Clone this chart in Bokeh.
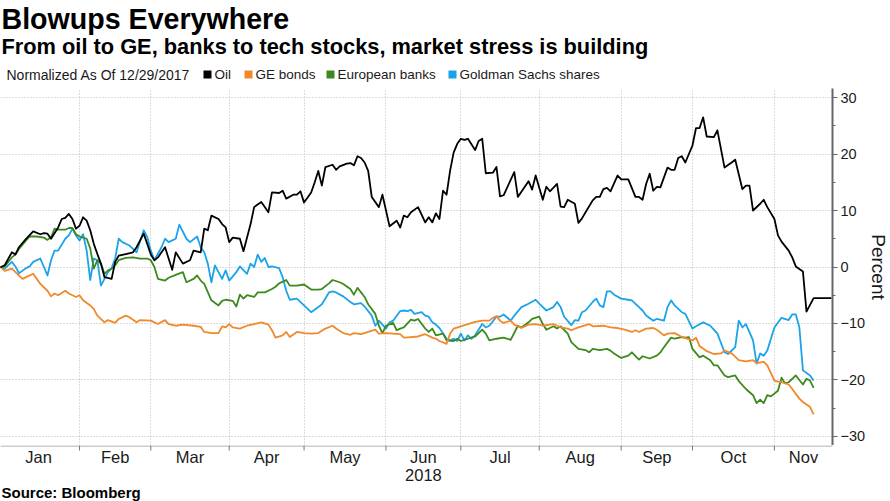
import numpy as np
from bokeh.plotting import figure
from bokeh.layouts import column
from bokeh.models import Range1d, FixedTicker, Label, Grid
from bokeh.core.properties import value
from bokeh.embed import file_html
from bokeh.resources import INLINE

BASE_DATE = "2017-12-29"   # normalization date = business day 0

# ---- data: business days since 12/29/2017, percent change ----
oil_day = [
    0, 2, 3, 5, 6, 7, 9, 11, 13, 14,
    15, 16, 18, 19, 20, 21, 22, 23, 24, 25,
    26, 27, 28, 29, 30, 31, 33, 34, 35, 37,
    39, 40, 42, 43, 44, 45, 46, 48, 49, 50,
    51, 53, 55, 56, 58, 59, 60, 61, 63, 64,
    65, 66, 67, 69, 70, 72, 73, 75, 77, 78,
    80, 81, 82, 84, 85, 86, 87, 89, 90, 91,
    92, 93, 95, 96, 97, 99, 100, 101, 102, 103,
    104, 105, 106, 108, 109, 110, 111, 113, 114, 115,
    116, 117, 119, 121, 122, 123, 124, 125, 126, 127,
    128, 129, 130, 131, 132, 133, 135, 136, 137, 138,
    140, 141, 142, 143, 146, 147, 150, 151, 152, 154,
    155, 156, 158, 159, 160, 161, 163, 164, 165, 166,
    168, 169, 170, 171, 172, 173, 175, 176, 178, 180,
    181, 182, 183, 184, 185, 186, 187, 189, 190, 191,
    192, 193, 194, 195, 196, 197, 198, 199, 200, 202,
    203, 205, 207, 208, 210, 211, 212, 213, 215, 216,
    217, 219, 220, 221, 223, 224, 225, 227, 228, 230,
    235]
oil_pct = [
    0.0, 0.0, 0.3, 2.6, 2.2, 3.5, 5.0, 6.3, 5.8, 6.0,
    5.9, 5.0, 7.0, 8.5, 8.7, 9.4, 8.5, 6.8, 7.3, 8.8,
    8.2, 6.5, 4.1, 2.3, 0.6, -1.8, -2.1, 0.9, 2.0, 2.3,
    2.6, 3.5, 5.9, 4.1, 2.2, 1.2, 1.7, 3.5, 1.5, -0.5,
    2.6, 0.6, 1.2, 2.9, 2.6, 6.8, 6.5, 9.1, 8.5, 7.6,
    7.0, 4.4, 5.2, 5.0, 2.8, 7.6, 10.6, 11.5, 9.7, 13.2,
    13.1, 13.5, 12.1, 12.8, 12.8, 13.4, 11.4, 13.2, 15.0, 17.0,
    14.4, 17.7, 18.1, 17.2, 17.8, 18.3, 18.4, 18.0, 19.6, 19.3,
    18.5, 17.0, 12.4, 10.6, 12.8, 10.0, 7.2, 8.2, 7.0, 9.1,
    8.8, 9.7, 10.6, 7.9, 8.8, 7.9, 9.5, 8.5, 13.5, 12.8,
    17.1, 20.3, 21.8, 22.7, 22.5, 22.7, 20.7, 22.3, 22.7, 16.6,
    16.7, 17.7, 12.5, 12.7, 16.8, 12.4, 15.2, 13.7, 16.2, 11.9,
    14.2, 13.4, 14.7, 10.7, 10.6, 11.9, 11.2, 7.8, 8.6, 9.7,
    11.8, 12.4, 12.4, 13.8, 14.0, 13.4, 16.2, 15.5, 15.5, 12.4,
    12.4, 11.9, 14.7, 16.5, 13.5, 14.2, 14.1, 17.6, 17.2, 17.2,
    19.3, 19.6, 18.5, 20.0, 21.5, 24.6, 24.6, 26.5, 23.1, 23.0,
    24.2, 17.6, 18.5, 19.0, 13.8, 14.4, 14.4, 10.0, 11.2, 11.9,
    10.6, 8.5, 5.6, 4.5, 2.9, 1.7, 0.1, -0.8, -7.9, -5.5,
    -5.5]

ge_day = [
    0, 2, 3, 5, 6, 8, 9, 11, 12, 13,
    15, 16, 17, 18, 20, 21, 23, 24, 25, 27,
    28, 29, 31, 32, 34, 35, 37, 38, 40, 41,
    44, 46, 48, 49, 51, 53, 56, 58, 59, 61,
    63, 64, 65, 66, 67, 69, 71, 73, 75, 77,
    78, 79, 81, 82, 83, 85, 87, 89, 91, 93,
    95, 96, 98, 100, 101, 103, 105, 107, 108, 110,
    112, 114, 115, 117, 119, 121, 123, 124, 125, 127,
    128, 129, 131, 133, 135, 137, 139, 140, 141, 142,
    143, 145, 146, 148, 150, 152, 154, 156, 157, 159,
    161, 162, 164, 167, 168, 171, 173, 175, 177, 179,
    180, 181, 183, 185, 186, 188, 189, 191, 193, 194,
    196, 197, 198, 200, 202, 204, 205, 207, 209, 211,
    213, 214, 216, 217, 219, 220, 221, 223, 224, 226,
    227, 229, 230]
ge_pct = [
    0.0, -0.1, -0.7, -0.3, -0.9, -2.1, -1.8, -1.2, -2.1, -3.0,
    -4.2, -5.2, -4.7, -5.0, -4.2, -4.7, -5.3, -5.0, -5.9, -6.8,
    -7.4, -8.6, -9.8, -9.4, -9.9, -9.2, -8.6, -8.9, -9.8, -9.4,
    -9.5, -10.1, -9.4, -10.1, -10.4, -10.2, -10.4, -10.6, -11.5, -11.7,
    -11.7, -10.5, -10.7, -10.1, -10.7, -10.9, -10.4, -10.1, -9.8, -10.2,
    -11.2, -12.5, -12.1, -11.5, -12.4, -11.5, -11.7, -11.8, -11.7, -10.9,
    -10.4, -10.9, -11.7, -12.0, -11.7, -11.9, -11.5, -11.1, -11.8, -11.7,
    -11.8, -11.9, -12.5, -12.4, -12.3, -11.9, -12.5, -12.7, -13.1, -13.6,
    -11.8, -10.9, -10.5, -10.1, -9.7, -9.5, -9.5, -9.0, -8.7, -9.5,
    -9.9, -9.5, -10.2, -10.8, -10.2, -10.1, -10.4, -10.2, -10.1, -10.7,
    -10.9, -11.2, -10.7, -10.1, -10.5, -10.4, -10.7, -10.8, -11.1, -11.5,
    -11.2, -11.5, -10.9, -10.8, -11.1, -12.1, -11.8, -11.7, -12.4, -12.6,
    -13.0, -12.5, -14.0, -14.9, -15.4, -15.3, -14.8, -15.3, -16.5, -16.7,
    -16.5, -17.0, -16.8, -17.4, -20.1, -20.3, -20.4, -20.8, -21.6, -23.3,
    -23.9, -24.8, -26.1]

eu_day = [
    0, 2, 3, 5, 6, 7, 9, 10, 12, 14,
    15, 16, 17, 18, 20, 21, 22, 23, 24, 26,
    27, 28, 29, 30, 31, 32, 33, 34, 35, 37,
    39, 41, 43, 44, 45, 46, 48, 49, 51, 53,
    54, 56, 57, 58, 59, 61, 63, 64, 65, 67,
    68, 69, 70, 71, 73, 74, 76, 78, 79, 80,
    82, 83, 85, 87, 89, 91, 92, 94, 95, 97,
    98, 100, 101, 102, 104, 105, 107, 108, 109, 110,
    112, 113, 114, 115, 117, 118, 119, 121, 122, 123,
    124, 126, 127, 129, 130, 131, 133, 135, 137, 138,
    139, 141, 143, 145, 147, 148, 150, 151, 153, 154,
    155, 157, 158, 159, 161, 162, 164, 166, 167, 168,
    170, 172, 173, 174, 176, 178, 179, 181, 182, 184,
    186, 187, 188, 190, 191, 193, 194, 195, 196, 198,
    199, 201, 202, 203, 205, 206, 208, 209, 211, 213,
    214, 215, 216, 217, 218, 220, 221, 222, 223, 225,
    227, 228, 229, 230]
eu_pct = [
    0.0, 0.0, 0.1, 1.7, 2.2, 3.2, 4.7, 5.4, 5.4, 5.2,
    4.8, 5.3, 6.8, 6.6, 6.6, 6.9, 6.9, 5.8, 5.4, 5.0,
    3.3, -0.3, 1.2, 0.6, -1.2, -0.6, -0.3, 0.3, 1.2, 1.6,
    1.7, 1.5, 1.5, 1.2, 0.0, -2.1, -2.4, -1.9, -1.4, -0.9,
    -2.7, -2.1, -1.5, -2.4, -3.0, -5.9, -6.8, -6.0, -5.8, -6.0,
    -7.0, -4.9, -5.6, -5.0, -5.3, -4.5, -4.5, -3.9, -3.5, -2.9,
    -2.3, -3.3, -3.3, -3.1, -4.0, -4.0, -3.9, -2.9, -2.3, -2.7,
    -3.0, -3.9, -4.9, -3.7, -5.3, -6.6, -8.3, -10.4, -11.7, -10.4,
    -9.9, -11.2, -10.9, -10.7, -9.3, -9.5, -9.2, -10.9, -11.5, -10.9,
    -12.1, -11.8, -13.0, -13.1, -12.7, -13.1, -12.7, -12.3, -11.1, -11.8,
    -13.0, -12.7, -12.5, -12.9, -10.4, -10.7, -9.8, -9.2, -8.8, -10.1,
    -11.1, -10.5, -10.9, -10.5, -11.8, -13.3, -14.5, -14.7, -15.1, -14.5,
    -14.7, -14.5, -14.8, -15.3, -16.1, -15.7, -15.1, -16.4, -15.8, -16.2,
    -15.7, -15.1, -14.2, -12.5, -12.7, -12.4, -12.5, -12.4, -14.5, -16.0,
    -15.7, -16.5, -17.4, -17.4, -19.2, -19.5, -19.2, -20.2, -21.6, -22.7,
    -24.1, -23.5, -24.1, -22.7, -22.9, -21.9, -19.6, -20.6, -20.4, -19.2,
    -20.8, -19.8, -20.1, -21.4]

gs_day = [
    0, 2, 3, 5, 6, 7, 9, 10, 11, 13,
    14, 15, 16, 17, 18, 20, 21, 22, 23, 24,
    25, 26, 27, 28, 29, 30, 32, 33, 34, 35,
    36, 38, 39, 40, 42, 43, 44, 45, 47, 48,
    49, 51, 52, 54, 55, 57, 58, 59, 60, 61,
    62, 64, 65, 66, 68, 69, 71, 72, 73, 74,
    75, 76, 77, 78, 80, 81, 82, 83, 85, 87,
    89, 91, 92, 94, 95, 96, 98, 100, 101, 103,
    104, 106, 107, 108, 110, 111, 112, 114, 115, 116,
    117, 118, 120, 121, 122, 123, 124, 125, 127, 128,
    129, 130, 131, 132, 133, 134, 135, 137, 138, 139,
    141, 142, 143, 145, 146, 148, 150, 152, 153, 155,
    157, 158, 159, 160, 162, 163, 164, 165, 166, 168,
    169, 170, 171, 172, 173, 174, 176, 178, 179, 181,
    182, 183, 185, 186, 188, 189, 190, 191, 193, 194,
    196, 197, 199, 201, 202, 203, 205, 206, 208, 209,
    210, 211, 213, 214, 215, 216, 217, 219, 221, 223,
    224, 225, 226, 227, 229, 230]
gs_pct = [
    0.0, 0.0, -0.3, 0.9, 0.1, -1.1, -0.2, 0.1, 0.9, 1.5,
    0.0, -1.5, 1.2, 2.9, 2.9, 5.0, 5.6, 6.8, 5.6, 4.7,
    5.8, 2.9, -2.3, 1.5, 1.2, -3.3, -0.9, -0.2, 1.5, 5.0,
    4.4, 3.8, 3.2, 2.6, 6.5, 5.3, 2.9, 1.2, 3.5, 5.0,
    4.4, 5.0, 7.5, 5.0, 4.4, 5.4, 3.5, 2.6, 0.6, -2.7,
    0.3, -2.1, -0.6, -2.4, -0.9, 0.1, -1.2, 0.6, 0.0, 2.2,
    0.9, 1.6, 0.0, 0.1, -0.2, -1.8, -4.2, -5.8, -5.6, -6.8,
    -8.0, -7.1, -6.6, -4.5, -4.3, -4.5, -5.2, -6.2, -6.6, -6.4,
    -7.0, -8.6, -10.4, -9.5, -10.9, -9.8, -9.5, -7.8, -7.7, -7.8,
    -7.6, -8.3, -8.0, -8.6, -8.8, -9.8, -10.2, -10.8, -12.7, -13.0,
    -12.7, -13.1, -11.8, -13.0, -12.1, -12.7, -12.1, -10.1, -10.7, -10.4,
    -8.8, -8.8, -8.4, -9.5, -8.6, -7.1, -6.5, -5.8, -6.5, -7.7,
    -7.1, -6.2, -7.1, -8.8, -10.3, -9.4, -9.5, -8.0, -7.7, -6.2,
    -5.6, -6.8, -7.1, -4.3, -4.3, -4.9, -5.6, -5.8, -5.9, -7.1,
    -7.7, -8.6, -9.5, -9.2, -9.5, -7.1, -5.9, -6.8, -8.0, -8.3,
    -10.9, -10.5, -9.8, -10.4, -11.1, -11.8, -15.1, -15.4, -14.2, -9.5,
    -10.7, -10.1, -13.0, -17.1, -15.3, -15.7, -14.8, -10.7, -9.0, -9.4,
    -8.4, -8.4, -10.7, -18.3, -19.2, -20.1]

series_names = ["Oil", "GE bonds", "European banks", "Goldman Sachs shares"]
series_colors = ["#000000", "#F0892A", "#3C8A1E", "#1BA3EA"]

month_names = ["Jan", "Feb", "Mar", "Apr", "May", "Jun",
               "Jul", "Aug", "Sep", "Oct", "Nov"]
month_first = ["2018-01-01", "2018-02-01", "2018-03-01", "2018-04-01",
               "2018-05-01", "2018-06-01", "2018-07-01", "2018-08-01",
               "2018-09-01", "2018-10-01", "2018-11-01"]
year_text = "2018"
y_ticks = [-30, -20, -10, 0, 10, 20, 30]
y_minor = [-25, -15, -5, 5, 15, 25]

title_text = "Blowups Everywhere"
subtitle_text = "From oil to GE, banks to tech stocks, market stress is building"
note_text = "Normalized As Of 12/29/2017"
source_text = "Source: Bloomberg"
axis_title = "Percent"

# ---- derived axis positions (business-day scale) ----
X_START, X_END = 1.82, 235.3
starts = [int(np.busday_count(BASE_DATE, d)) for d in month_first]
bounds = starts + [X_END]
mids = [float(bounds[k] + bounds[k + 1]) / 2.0 for k in range(len(starts))]

SANS = "Liberation Sans"
W = 890
HEAD_H, FOOT_H = 88, 56
FRAME_W, FRAME_H = 832, 357
RIGHT = W - FRAME_W
TXT = "#1a1a1a"


def blank(fig):
    fig.grid.visible = False
    fig.outline_line_color = None
    fig.background_fill_color = "white"
    fig.border_fill_color = "white"


# ================= header (title, subtitle, legend) =================
head = figure(frame_width=FRAME_W, frame_height=HEAD_H,
              x_range=Range1d(0, FRAME_W), y_range=Range1d(HEAD_H, 0),
              x_axis_location=None, y_axis_location=None,
              min_border_left=0, min_border_right=RIGHT, min_border_top=0, min_border_bottom=0,
              output_backend="svg", toolbar_location=None)
blank(head)

head.add_layout(Label(x=1, y=18, text=title_text, text_font=SANS, text_font_style="bold",
                      text_font_size="28.6px", text_color="#000000",
                      text_baseline="middle"))
head.add_layout(Label(x=1, y=46, text=subtitle_text, text_font=SANS, text_font_style="bold",
                      text_font_size="21.8px", text_color="#000000",
                      text_baseline="middle"))
head.add_layout(Label(x=6, y=74, text=note_text, text_font=SANS,
                      text_font_size="14px", text_color=TXT, text_baseline="middle"))

sw_left = [203, 244, 326, 448]
sw_text = [214, 255, 337, 459]
head.quad(left=sw_left, right=[v + 8 for v in sw_left], top=[70] * 4, bottom=[78] * 4,
          fill_color=series_colors, line_color=None)
for tx, name in zip(sw_text, series_names):
    head.add_layout(Label(x=tx, y=74, text=name, text_font=SANS,
                          text_font_size="13.5px", text_color=TXT, text_baseline="middle"))

# ================= main chart =================
p = figure(frame_width=FRAME_W, frame_height=FRAME_H, x_range=Range1d(X_START, X_END),
           y_range=Range1d(-31.6, 31.6), x_axis_location=None, y_axis_location="right",
           output_backend="svg", toolbar_location=None,
           min_border_left=0, min_border_right=RIGHT, min_border_top=0, min_border_bottom=0)
blank(p)

gx = Grid(dimension=0, ticker=FixedTicker(ticks=starts))
gy = Grid(dimension=1, ticker=FixedTicker(ticks=y_ticks))
for g in (gx, gy):
    g.grid_line_color = "#b8b8b8"
    g.grid_line_dash = "1 2"
    g.grid_line_width = 1
    p.add_layout(g, "center")

ya = p.yaxis[0]
ya.ticker = FixedTicker(ticks=y_ticks, minor_ticks=y_minor)
ya.axis_line_width = 2
ya.axis_line_color = "#666666"
ya.major_tick_line_color = "#666666"
ya.minor_tick_line_color = "#666666"
ya.major_tick_out = 5
ya.major_tick_in = 0
ya.minor_tick_out = 3
ya.minor_tick_in = 0
ya.major_label_standoff = 3
ya.major_label_text_font = SANS
ya.major_label_text_font_size = "14.5px"
ya.major_label_text_color = TXT
ya.axis_label = axis_title
ya.axis_label_text_font = SANS
ya.axis_label_text_font_size = "19px"
ya.axis_label_text_font_style = "normal"
ya.axis_label_text_color = TXT
ya.axis_label_standoff = 0

days = [oil_day, ge_day, eu_day, gs_day]
vals = [oil_pct, ge_pct, eu_pct, gs_pct]
for idx in [3, 2, 1, 0]:
    p.line(x=days[idx], y=vals[idx], line_color=series_colors[idx],
           line_width=1.8, line_join="round")

# ================= footer (month axis, year, source) =================
foot = figure(frame_width=FRAME_W, frame_height=FOOT_H, x_range=p.x_range,
              y_range=Range1d(FOOT_H, 0), x_axis_location=None, y_axis_location=None,
              min_border_left=0, min_border_right=RIGHT, min_border_top=0, min_border_bottom=0,
              output_backend="svg", toolbar_location=None)
blank(foot)

# axis line and month-boundary ticks, placed on the business-day scale
foot.segment(x0=[X_START], x1=[X_END], y0=[0.5], y1=[0.5],
             line_color="#9a9a9a", line_width=1)
foot.segment(x0=starts, x1=starts, y0=[0] * len(starts), y1=[5] * len(starts),
             line_color="#777777", line_width=1)

foot.text(x=mids, y=[11] * len(mids), text=month_names, text_font=value(SANS),
          text_font_size="16.5px", text_color=TXT, text_align="center",
          text_baseline="middle")
foot.text(x=[mids[5]], y=[29], text=[year_text], text_font=value(SANS),
          text_font_size="16.5px", text_color=TXT, text_align="center",
          text_baseline="middle")
foot.add_layout(Label(x=1, y=46.5, x_units="screen", text=source_text, text_font=SANS,
                      text_font_style="bold", text_font_size="15px",
                      text_color="#000000", text_baseline="middle"))

layout = column(head, p, foot, spacing=0)

with open("out.html", "w", encoding="utf-8") as f:
    f.write(file_html(layout, INLINE))
